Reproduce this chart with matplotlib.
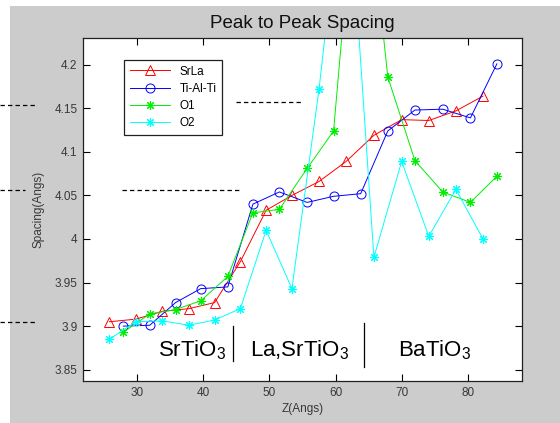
import matplotlib
matplotlib.use("Agg")
import matplotlib.pyplot as plt
from matplotlib.lines import Line2D
from matplotlib.patches import Rectangle

plt.rcParams['font.family'] = ['Liberation Sans', 'DejaVu Sans']

# Z positions (Angs) of the two sets of layers
z_a = [25.8, 29.8, 33.8, 37.8, 41.7, 45.6, 49.5, 53.4, 57.5, 61.6, 65.8, 70.0, 74.1, 78.2, 82.3]
z_b = [27.9, 31.9, 35.8, 39.6, 43.7, 47.5, 51.5, 55.7, 59.7, 63.8, 67.9, 72.0, 76.2, 80.4, 84.4]

srla = [3.905, 3.908, 3.917, 3.920, 3.927, 3.974, 4.033, 4.050, 4.066, 4.089,
        4.119, 4.137, 4.136, 4.147, 4.164]
tialti = [3.900, 3.901, 3.927, 3.943, 3.945, 4.040, 4.054, 4.042, 4.049, 4.052,
          4.124, 4.148, 4.149, 4.139, 4.201]
o1 = [3.893, 3.914, 3.919, 3.929, 3.957, 4.030, 4.034, 4.081, 4.124, 4.480,
      4.186, 4.090, 4.054, 4.042, 4.072]
o2 = [3.885, 3.905, 3.906, 3.901, 3.907, 3.920, 4.010, 3.943, 4.172, 4.450,
      3.979, 4.089, 4.003, 4.057, 4.000]

W, H = 560, 423
fig = plt.figure(figsize=(5.6, 4.23), dpi=100, facecolor='white')
# grey matlab figure background, white strip top/left
fig.patches.append(Rectangle((10 / W, 0), 1, 1 - 6 / H, transform=fig.transFigure,
                             facecolor='#cccccc', edgecolor='none', zorder=-10))

ax = fig.add_axes([83 / W, 1 - 381 / H, 439 / W, 343 / H])
ax.set_facecolor('white')

ast = (8, 2, 0)
ax.plot(z_a, srla, '-', color='red', lw=0.7, marker='^', ms=7, mfc='none', mew=0.7, label='SrLa')
ax.plot(z_b, tialti, '-', color='blue', lw=0.7, marker='o', ms=6.5, mfc='none', mew=0.7, label='Ti-Al-Ti')
ax.plot(z_b, o1, '-', color='#00ee00', lw=0.7, marker=ast, ms=6.5, mew=0.8, label='O1')
ax.plot(z_a, o2, '-', color='cyan', lw=0.7, marker=ast, ms=6.5, mew=0.8, label='O2')

ax.set_xlim(21.8, 88.2)
ax.set_ylim(3.837, 4.2307)
ax.set_xticks([30, 40, 50, 60, 70, 80])
ax.set_yticks([3.85, 3.9, 3.95, 4.0, 4.05, 4.1, 4.15, 4.2])
ax.set_yticklabels(['3.85', '3.9', '3.95', '4', '4.05', '4.1', '4.15', '4.2'])
ax.tick_params(direction='in', top=True, right=True, length=5, width=0.8,
               labelsize=8.5, labelcolor='#383838', pad=4)
for s in ax.spines.values():
    s.set_color('#202020')
    s.set_linewidth(0.9)

ax.set_title('Peak to Peak Spacing', fontsize=13.5, color='#101010', pad=7)
ax.set_xlabel('Z(Angs)', fontsize=8.5, color='#383838', labelpad=3)
ax.set_ylabel('Spacing(Angs)', fontsize=8.5, color='#383838', labelpad=7)

leg = ax.legend(loc='upper left', bbox_to_anchor=(0.093, 0.937), borderaxespad=0,
                fancybox=False, edgecolor='#202020', framealpha=1, fontsize=8.5,
                handlelength=3.4, labelspacing=0.45, borderpad=0.5)
leg.get_frame().set_linewidth(0.9)

# layer annotations
ax.text(192 / W, 1 - 350 / H, r'SrTiO$_\mathregular{3}$', transform=fig.transFigure,
        fontsize=16, ha='center', va='center')
ax.text(300 / W, 1 - 350 / H, r'La,SrTiO$_\mathregular{3}$', transform=fig.transFigure,
        fontsize=16, ha='center', va='center')
ax.text(435 / W, 1 - 350 / H, r'BaTiO$_\mathregular{3}$', transform=fig.transFigure,
        fontsize=16, ha='center', va='center')

def fig_line(x0, x1, y0, y1, ls):
    fig.add_artist(Line2D([x0 / W, x1 / W], [1 - y0 / H, 1 - y1 / H],
                          transform=fig.transFigure, color='black', lw=0.9, ls=ls))

fig_line(232.5, 232.5, 326, 361, '-')
fig_line(364, 364, 323, 367, '-')

# dashed guide lines
for x0, x1, y in [(0, 36, 105), (0, 25, 190.5), (0, 35, 321.5),
                  (236, 302, 102), (122, 239, 190)]:
    fig_line(x0, x1, y, y, (0, (3.5, 2.5)))

fig.savefig('out.png', dpi=100)
